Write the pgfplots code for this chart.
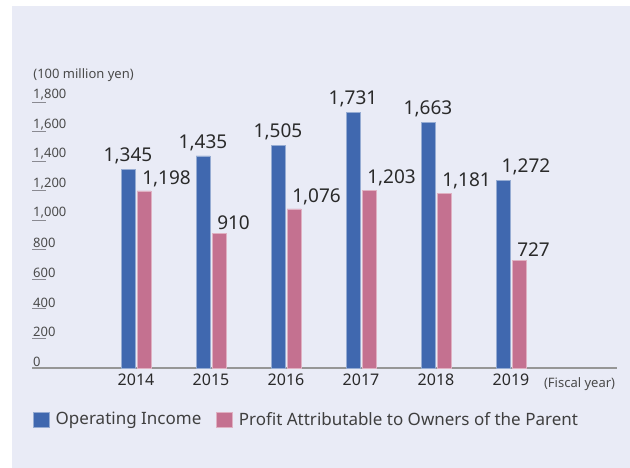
\documentclass[border=0pt]{standalone}
\usepackage{pgfplots}
\pgfplotsset{compat=1.18}
\usepackage{pgfplotstable}
\usepackage{fontspec}
\setmainfont{Noto Sans}

\definecolor{panelbg}{HTML}{E9EBF6}
\definecolor{opblue}{HTML}{4068AF}
\definecolor{prpink}{HTML}{C47190}
\definecolor{tickgray}{HTML}{8A8A92}
\definecolor{basegray}{HTML}{969696}
\definecolor{txt}{HTML}{2A2A2A}

% year index, value, label shift
\pgfplotstableread{
x  y     dx
0  1345  0
1  1435  0
2  1505  0
3  1731  0
4  1663  0
5  1272  23
}\opincome
\pgfplotstableread{
x  y     dx
0  1198  -2
1  910   -2
2  1076  -2
3  1203  -2
4  1181  -2
5  727   -2
}\profit

\begin{document}
\begin{tikzpicture}
\fill[white] (0pt,0pt) rectangle (630pt,468pt);
\fill[panelbg] (12pt,0pt) rectangle (630pt,462pt);
\begin{axis}[
    at={(32pt,100pt)}, anchor=south west,
    scale only axis,
    width=585pt, height=266pt,
    ybar,
    bar width=14pt,
    xmin=-1.3867, xmax=6.4133,
    ymin=0, ymax=1800,
    axis x line=bottom,
    axis y line=left,
    axis line style={-},
    x axis line style={draw=basegray, line width=1.6pt},
    y axis line style={draw=none},
    xtick={0,1,2,3,4,5},
    xticklabels={2014,2015,2016,2017,2018,2019},
    xtick style={draw=none},
    xticklabel style={font=\fontsize{16}{18}\selectfont, text=txt, yshift=-2pt},
    ytick={0,200,...,1800},
    tick align=inside,
    major tick length=14pt,
    ytick style={draw=tickgray, line width=0.9pt},
    yticklabel style={font=\fontsize{13}{15}\selectfont, text=txt!85,
        anchor=south west, inner xsep=0pt, inner ysep=1.5pt, xshift=1pt},
    /pgf/number format/assume math mode=true,
    /pgf/number format/1000 sep={,},
    clip=false,
    nodes near coords={\pgfmathprintnumber[fixed,precision=0,1000 sep={,}]{\pgfplotspointmeta}},
    point meta=y,
    visualization depends on={\thisrow{dx} \as \dx},
    legend columns=2,
    legend style={at={(0,0)}, anchor=north west, xshift=1pt, yshift=-42pt,
        draw=none, fill=none, font=\fontsize{17}{19}\selectfont, text=txt!90,
        inner xsep=0pt, inner ysep=0pt,
        /tikz/every odd column/.append style={column sep=4pt},
        /tikz/every even column/.append style={column sep=13pt}},
    legend image code/.code={\fill[#1] (0pt,-7.5pt) rectangle (16pt,7.5pt);},
]
\addplot[fill=opblue, draw=opblue!55!white, line width=0.5pt, bar shift=-8pt,
    every node near coord/.append style={font=\fontsize{19}{21}\selectfont, text=txt,
        anchor=south, inner sep=0pt, yshift=5pt, xshift=\dx pt}]
    table[x=x, y=y] {\opincome};
\addlegendentry{Operating Income}
\addplot[fill=prpink, draw=prpink!55!white, line width=0.5pt, bar shift=8pt,
    every node near coord/.append style={font=\fontsize{19}{21}\selectfont, text=txt,
        anchor=south west, inner sep=0pt, yshift=4pt, xshift=\dx pt}]
    table[x=x, y=y] {\profit};
\addlegendentry{Profit Attributable to Owners of the Parent}

\node[anchor=base west, inner sep=0pt, font=\fontsize{13}{15}\selectfont, text=txt!85]
    at (axis description cs:0.002,1.09) {(100 million yen)};
\node[anchor=base west, inner sep=0pt, font=\fontsize{13}{15}\selectfont, text=txt!85]
    at (axis description cs:0.875,-0.075) {(Fiscal year)};
\end{axis}
\end{tikzpicture}
\end{document}
